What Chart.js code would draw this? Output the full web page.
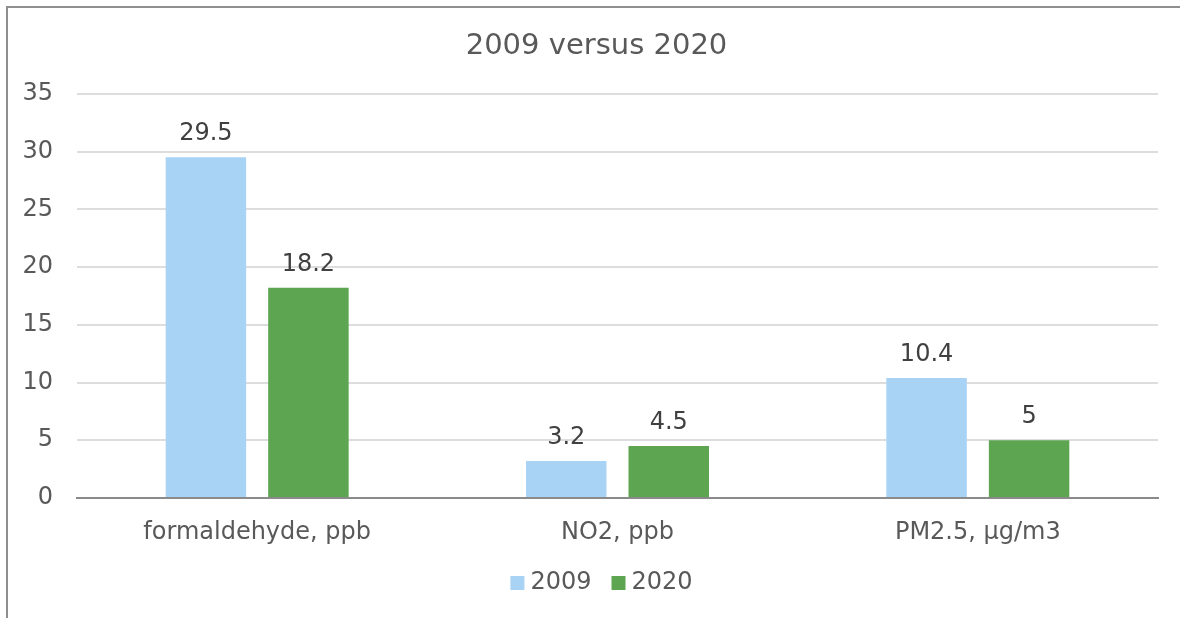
<!DOCTYPE html>
<html>
<head>
<meta charset="utf-8">
<script src="https://cdn.jsdelivr.net/npm/chart.js@4.4.1/dist/chart.umd.min.js"></script>
<style>
  html, body { margin: 0; padding: 0; background: #fff; overflow: hidden; }
  canvas { display: block; }
</style>
</head>
<body>
<canvas id="c" width="1180" height="618"></canvas>
<script>
const categories = ["formaldehyde, ppb", "NO2, ppb", "PM2.5, \u00b5g/m3"];
const seriesNames = ["2009", "2020"];
const values2009 = [29.5, 3.2, 10.4];
const values2020 = [18.2, 4.5, 5];
const yTicks = [0, 5, 10, 15, 20, 25, 30, 35];

const FONT = "'DejaVu Sans', Verdana, sans-serif";

const dataLabels = {
  id: 'dataLabels',
  afterDatasetsDraw(chart) {
    const ctx = chart.ctx;
    ctx.save();
    ctx.font = "24px " + FONT;
    ctx.fillStyle = "#404040";
    ctx.textAlign = "center";
    ctx.textBaseline = "alphabetic";
    chart.data.datasets.forEach((ds, di) => {
      const meta = chart.getDatasetMeta(di);
      meta.data.forEach((bar, i) => {
        ctx.fillText(String(ds.data[i]), bar.x, bar.y - 17);
      });
    });
    ctx.restore();
  }
};

const frameAndShift = {
  id: 'frameAndShift',
  afterLayout(chart) {
    if (chart.legend) { chart.legend.left += 51; }
    if (chart.titleBlock) { chart.titleBlock.left += 35; }
  },
  beforeDraw(chart) {
    const ctx = chart.ctx;
    ctx.save();
    ctx.fillStyle = '#ffffff';
    ctx.fillRect(0, 0, chart.width, chart.height);
    ctx.strokeStyle = '#8f8f8f';
    ctx.lineWidth = 2;
    ctx.beginPath();
    ctx.moveTo(7, chart.height);
    ctx.lineTo(7, 7);
    ctx.lineTo(chart.width, 7);
    ctx.stroke();
    ctx.restore();
  }
};

new Chart(document.getElementById('c'), {
  type: 'bar',
  data: {
    labels: categories,
    datasets: [
      { label: seriesNames[0], data: values2009, backgroundColor: '#A9D3F5', borderWidth: 0,
        categoryPercentage: 0.569, barPercentage: 0.785 },
      { label: seriesNames[1], data: values2020, backgroundColor: '#5DA550', borderWidth: 0,
        categoryPercentage: 0.569, barPercentage: 0.785 }
    ]
  },
  options: {
    responsive: false,
    animation: false,
    devicePixelRatio: 1,
    layout: { padding: { left: 0, right: 22, top: 0, bottom: 13 } },
    plugins: {
      title: {
        display: true,
        text: '2009 versus 2020',
        color: '#595959',
        font: { family: FONT, size: 29, weight: 'normal' },
        padding: { top: 29, bottom: 30 }
      },
      legend: {
        display: true,
        position: 'bottom',
        labels: {
          color: '#595959',
          font: { family: FONT, size: 24 },
          usePointStyle: true,
          pointStyle: 'rect',
          boxWidth: 2,
          boxHeight: 14,
          padding: 26
        }
      },
      tooltip: { enabled: false }
    },
    scales: {
      x: {
        grid: { display: false, drawTicks: false },
        border: { display: true, color: '#8a8a8a', width: 2 },
        ticks: { color: '#595959', font: { family: FONT, size: 24 }, padding: 20, maxRotation: 0 },
        afterFit(s) { s.height = 47; }
      },
      y: {
        min: 0,
        max: 35,
        afterBuildTicks(s) { s.ticks = yTicks.map(v => ({ value: v })); },
        grid: { color: '#dddddd', lineWidth: 2, drawTicks: false },
        border: { display: false },
        ticks: { color: '#595959', font: { family: FONT, size: 24 }, padding: 24 },
        afterFit(s) { s.width = 77; }
      }
    }
  },
  plugins: [dataLabels, frameAndShift]
});
</script>
</body>
</html>
